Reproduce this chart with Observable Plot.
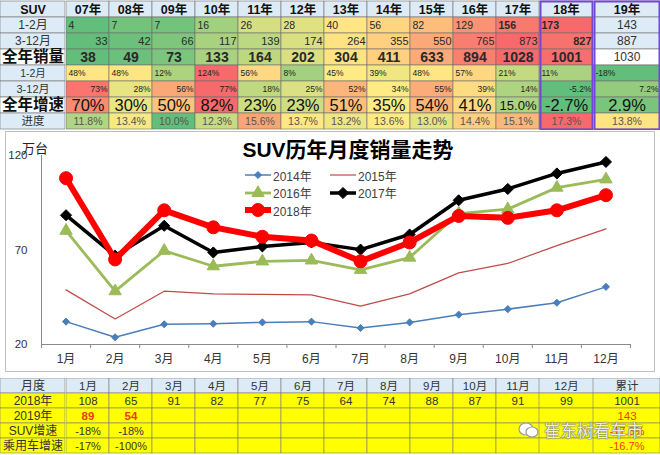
<!DOCTYPE html>
<html><head><meta charset="utf-8">
<script src="https://cdn.jsdelivr.net/npm/d3@7"></script>
<script src="https://cdn.jsdelivr.net/npm/@observablehq/plot@0.6"></script>
<style>
body{margin:0;background:#fff;font-family:"Liberation Sans","Noto Sans CJK SC",sans-serif;}
#root{position:relative;width:660px;height:455px;overflow:hidden;background:#fff;}
#root svg{display:block;}
</style></head><body><div id="root"></div>
<script>
// ---------- DATA ----------
const years = ["07年","08年","09年","10年","11年","12年","13年","14年","15年","16年","17年","18年","19年"];
const sales12 = [4,7,7,16,26,28,40,56,82,129,156,173,143];
const sales312 = [33,42,66,117,139,174,264,355,550,765,873,827,887];
const salesYear = [38,49,73,133,164,202,304,411,633,894,1028,1001,1030];
const growth12 = ["48%","48%","12%","124%","56%","8%","45%","39%","48%","57%","21%","11%","-18%"];
const growth312 = ["73%","28%","56%","77%","18%","25%","52%","34%","55%","39%","14%","-5.2%","7.2%"];
const growthYear = ["70%","30%","50%","82%","23%","23%","51%","35%","54%","41%","15.0%","-2.7%","2.9%"];
const progress = ["11.8%","13.4%","10.0%","12.3%","15.6%","13.7%","13.2%","13.6%","13.0%","14.4%","15.1%","17.3%","13.8%"];
const topRowLabels = ["SUV","1-2月","3-12月","全年销量","1-2月","3-12月","全年增速","进度"];
const boldSales12 = ["17年","18年"];
const boldSales312 = ["18年"];

const months = ["1月","2月","3月","4月","5月","6月","7月","8月","9月","10月","11月","12月"];
const s2014 = [32.1,23.8,30.7,31.0,31.7,32.1,28.7,31.7,35.8,38.7,42.1,50.5];
const s2015 = [48.9,33.5,48.2,46.8,46.5,46.3,40.3,46.8,57.9,62.9,72.3,81.2];
const s2016 = [80.2,48.2,69.6,61.4,64.0,64.5,59.5,66.0,89.3,91.6,103.0,107.4];
const s2017 = [88.4,67.0,82.8,68.7,71.9,74.0,70.2,78.2,96.3,102.3,110.5,116.6];
const s2018 = [108,65,91,82,77,75,64,74,88,87,91,99];
const yTicks = [20,70,120];

const totalLabel = "累计";
const total2018 = 1001;
const sales2019 = [89,54];
const total2019 = 143;
const suvGrowth = ["-18%","-18%"];
const suvGrowthTotal = "-17.3%";
const pvGrowth = ["-17%","-100%"];
const pvGrowthTotal = "-16.7%";
const bottomRowLabels = ["月度","2018年","2019年","SUV增速","乘用车增速"];

// ---------- HELPERS ----------
const FONT = '"Liberation Sans","Noto Sans CJK SC",sans-serif';
const COND = 0.82;
const root = document.getElementById("root");
function place(el, left, top){ el.style.position="absolute"; el.style.left=left+"px"; el.style.top=top+"px"; root.appendChild(el); return el; }
const GREEN="#63BE7B", YELLOW="#FFEB84", RED="#F8696B", LB="#DDEBF7", YEL="#FFFF00", PURPLE="#7346D8";
const measureCtx = document.createElement("canvas").getContext("2d");
function prepare(d, bw){
  // Excel-like "shrink to fit": a label that would overflow its cell gets a smaller font
  measureCtx.font = `${d.weight === "bold" ? "bold " : ""}${d.size}px ${FONT}`;
  const w = measureCtx.measureText(d.label).width;
  if (w > bw - 6) return {...d, fs: d.size * (bw - 6) / w, cond: false};
  return {...d, fs: d.size};
}
function scale3(vals){
  return d3.scaleLinear().domain([d3.min(vals), d3.median(vals), d3.max(vals)]).range([GREEN,YELLOW,RED]).interpolate(d3.interpolateRgb);
}
function textMarks(cells, bw){
  const prepared = cells.filter(d => d.label != null && d.label !== "").map(d => prepare(d, bw));
  const groups = d3.groups(prepared, d => [d.anchor, d.weight, d.color, d.cond ? 1 : 0].join("|"));
  return groups.map(([k, arr]) => {
    const a = arr[0];
    return Plot.text(arr, {x: "col", y: "row", text: "label", fontSize: d => d.fs, fontWeight: a.weight,
      textAnchor: a.anchor, fill: a.color, fontFamily: FONT,
      ariaLabel: a.cond ? "cond-text" : "cell-text",
      dx: a.anchor === "start" ? -bw/2 + 2 : a.anchor === "end" ? bw/2 - 2 : 0});
  });
}
function condense(svg, s){
  d3.select(svg).selectAll('g[aria-label="cond-text"] text').each(function(){
    let tr = this.getAttribute("transform") || "";
    const x = this.getAttribute("x"), y = this.getAttribute("y");
    if (x != null || y != null) { tr += ` translate(${x||0},${y||0})`; this.removeAttribute("x"); this.removeAttribute("y"); }
    this.setAttribute("transform", tr + ` scale(${s},1)`);
  });
}
function tablePlot(cells, cols, keys, width, height, opts = {}){
  const bw = width / cols.length;
  const cs = cells.filter(d => cols.includes(d.col));
  const svg = Plot.plot({
    width, height, marginTop:0, marginLeft:0, marginRight:0, marginBottom: opts.mb || 0,
    x:{type:"band", domain:cols, padding:0, axis:null},
    y:{type:"band", domain:keys, padding:0, axis:null},
    color:{type:"identity"},
    style:{fontFamily:FONT, background:"transparent"},
    marks:[
      Plot.cell(cs, {x:"col", y:"row", fill:"fill", stroke: opts.stroke || "#6d6d6d", strokeWidth:0.6}),
      ...textMarks(cs, bw),
      ...(opts.frame ? [Plot.frame({stroke:PURPLE, strokeWidth:2, inset:1})] : [])
    ]
  });
  condense(svg, COND);
  return svg;
}

// ---------- TOP TABLE ----------
const rowKeys = ["hdr","s12","s312","sy","g12","g312","gy","prog"];
const topCells = [];
years.forEach(y => topCells.push({row:"hdr", col:y, fill:LB, label:y, anchor:"middle", size:12.5, weight:"bold", color:"#111"}));
const salesSpec = [
  ["s12", sales12, {anchor:"start", size:10.5, weight:"normal"}, LB, boldSales12],
  ["s312", sales312, {anchor:"end", size:11, weight:"normal"}, LB, boldSales312],
  ["sy", salesYear, {anchor:"middle", size:14, weight:"bold"}, "#ffffff", []]
];
salesSpec.forEach(([row, vals, st, lastFill, bolds]) => {
  const sc = scale3(vals.slice(0, 12));
  vals.forEach((v, i) => {
    if (i === 12) topCells.push({row, col:years[i], fill:lastFill, label:String(v), anchor:"middle", size:12, weight:"normal", color:"#333"});
    else topCells.push({row, col:years[i], fill:sc(v), label:String(v), anchor:st.anchor, size:st.size,
      weight: bolds.includes(years[i]) ? "bold" : st.weight, color:"#2a2a2a"});
  });
});
const pctSpec = [
  ["g12", growth12, {anchor:"start", size:8.5, weight:"normal", color:"#222"}],
  ["g312", growth312, {anchor:"end", size:8.5, weight:"normal", color:"#222"}],
  ["gy", growthYear, {anchor:"middle", size:16.5, weight:"normal", color:"#111", cond:true}],
  ["prog", progress, {anchor:"middle", size:10.5, weight:"normal", color:"#555"}]
];
pctSpec.forEach(([row, vals, st]) => {
  const sc = scale3(vals.map(parseFloat));
  vals.forEach((v, i) => topCells.push({row, col:years[i], fill:sc(parseFloat(v)), label:v, ...st}));
});
place(tablePlot(topCells, years.slice(0, 11), rowKeys, 474, 130), 65, 0);
place(tablePlot(topCells, years.slice(11, 12), rowKeys, 54, 130, {frame:true}), 539, 0);
place(tablePlot(topCells, years.slice(12), rowKeys, 67, 130, {frame:true}), 593, 0);

const labelStyles = [
  {size:12.5, weight:"bold"},{size:12, weight:"normal"},{size:12, weight:"normal"},{size:15.5, weight:"bold"},
  {size:10.5, weight:"normal"},{size:11, weight:"normal"},{size:15.5, weight:"bold"},{size:11.5, weight:"normal"}
];
const labelFills = [LB, LB, LB, "#ffffff", LB, LB, "#ffffff", LB];
const labelCells = topRowLabels.map((t, i) => ({row:rowKeys[i], label:t, fill:labelFills[i], ...labelStyles[i]}));
const topLabels = Plot.plot({
  width:65, height:130, margin:0,
  y:{type:"band", domain:rowKeys, padding:0, axis:null},
  color:{type:"identity"},
  style:{fontFamily:FONT, background:"transparent"},
  marks:[
    Plot.cell(labelCells, {y:"row", fill:"fill", stroke:"#6d6d6d", strokeWidth:0.6}),
    Plot.text(labelCells.filter(d => d.weight === "bold"), {y:"row", text:"label", fontSize:d => d.size, fontWeight:"bold", fill:"#111", fontFamily:FONT}),
    Plot.text(labelCells.filter(d => d.weight !== "bold"), {y:"row", text:"label", fontSize:d => d.size, fill:"#333", fontFamily:FONT})
  ]
});
place(topLabels, 0, 0);

// ---------- CHART ----------
const box = document.createElement("div");
box.style.cssText = "width:650px;height:241px;border:1px solid #BFBFBF;box-sizing:border-box;";
place(box, 5, 131);

const series = [
  {name:"2014年", values:s2014, stroke:"#4A7EBB", sw:1.5, symbol:"diamond2", r:3.2},
  {name:"2015年", values:s2015, stroke:"#BE4B48", sw:1.2, symbol:null, r:0},
  {name:"2016年", values:s2016, stroke:"#9BBB59", sw:2.8, symbol:"triangle", r:4.6},
  {name:"2017年", values:s2017, stroke:"#000000", sw:3.5, symbol:"diamond2", r:5},
  {name:"2018年", values:s2018, stroke:"#FF0000", sw:6, symbol:"circle", r:6.5}
];
const seriesMarks = series.flatMap(s => {
  const pts = s.values.map((v, i) => ({m:i+1, v}));
  const ms = [Plot.line(pts, {x:"m", y:"v", stroke:s.stroke, strokeWidth:s.sw, strokeLinejoin:"round"})];
  if (s.symbol) ms.push(Plot.dot(pts, {x:"m", y:"v", symbol:s.symbol, r:s.r, fill:s.stroke, stroke:s.stroke, strokeWidth:1}));
  return ms;
});
const chart = Plot.plot({
  width:660, height:248, marginTop:25, marginBottom:34, marginLeft:41, marginRight:30,
  x:{type:"linear", domain:[0.5, 12.5]},
  y:{type:"linear", domain:[20, 120]},
  style:{fontFamily:FONT, fontSize:"12px", color:"#333", background:"transparent"},
  marks:[
    Plot.ruleX([0.5], {stroke:"#8a8a8a", strokeWidth:1}),
    Plot.ruleY([20], {stroke:"#8a8a8a", strokeWidth:1}),
    Plot.axisY({ticks:yTicks, tickSize:0, tickPadding:14, label:null, fontSize:11.5}),
    Plot.axisX({ticks:d3.range(0.5, 13, 1), tickSize:4, tickFormat:() => "", label:null, stroke:"#8a8a8a"}),
    Plot.axisX({ticks:d3.range(1, 13), tickSize:0, tickPadding:10, tickFormat:i => months[i-1], label:null, fontSize:12}),
    ...seriesMarks
  ]
});
place(chart, 0, 130);

const unit = document.createElement("div");
unit.textContent = "万台";
unit.style.cssText = "font-size:13px;line-height:13px;color:#222;";
place(unit, 22, 142);

const title = document.createElement("div");
title.textContent = "SUV历年月度销量走势";
title.style.cssText = "width:300px;text-align:center;font-size:21px;line-height:21px;font-weight:bold;color:#000;";
place(title, 198, 139);

// legend
const legendPos = [[245,175],[330,175],[245,192.5],[330,192.5],[245,210]];
const symMap = {diamond2:d3.symbolDiamond2, triangle:d3.symbolTriangle, circle:d3.symbolCircle};
series.forEach((s, i) => {
  const [lx, ly] = legendPos[i];
  const item = document.createElement("div");
  item.style.cssText = "display:flex;align-items:center;height:14px;font-size:12px;color:#404040;white-space:nowrap;";
  const svg = d3.create("svg").attr("width", 26).attr("height", 14).style("overflow","visible");
  svg.append("line").attr("x1",0).attr("x2",26).attr("y1",7).attr("y2",7).attr("stroke",s.stroke).attr("stroke-width",s.sw);
  if (s.symbol) svg.append("path").attr("transform","translate(13,7)").attr("d", d3.symbol(symMap[s.symbol], Math.PI*s.r*s.r)()).attr("fill",s.stroke).attr("stroke",s.stroke);
  item.appendChild(svg.node());
  const sp = document.createElement("span"); sp.textContent = s.name; sp.style.marginLeft = "2px";
  item.appendChild(sp);
  place(item, lx, ly - 7);
});

// ---------- BOTTOM TABLE ----------
const cols = [...months, totalLabel];
const bKeys = ["hdr","r18","r19","suv","pv"];
const bCells = [];
const RED_T = "#F03A12";
cols.forEach((c, i) => {
  bCells.push({row:"hdr", col:c, fill:LB, label:c, anchor:"middle", size:11.5, weight:"normal", color:"#333"});
  bCells.push({row:"r18", col:c, fill:YEL, label:String(i < 12 ? s2018[i] : total2018), anchor:"middle", size:11.5, weight:"normal", color:"#333"});
  const v19 = i < 12 ? sales2019[i] : total2019;
  bCells.push({row:"r19", col:c, fill:YEL, label:v19 == null ? "" : String(v19), anchor:"middle", size:11.5, weight: i < 12 ? "bold" : "normal", color:RED_T});
  const vs = i < 12 ? suvGrowth[i] : suvGrowthTotal;
  bCells.push({row:"suv", col:c, fill:YEL, label:vs == null ? "" : vs, anchor:"middle", size:11, weight:"normal", color: i < 12 ? "#333" : RED_T});
  const vp = i < 12 ? pvGrowth[i] : pvGrowthTotal;
  bCells.push({row:"pv", col:c, fill:YEL, label:vp == null ? "" : vp, anchor:"middle", size:11, weight:"normal", color: i < 12 ? "#333" : RED_T});
});
place(tablePlot(bCells, cols.slice(0, 11), bKeys, 474, 77, {mb:2, stroke:"#7a7a7a"}), 65, 378);
place(tablePlot(bCells, cols.slice(11, 12), bKeys, 54, 77, {mb:2, stroke:"#7a7a7a"}), 539, 378);
place(tablePlot(bCells, cols.slice(12), bKeys, 67, 77, {mb:2, stroke:"#7a7a7a"}), 593, 378);

const bLabelCells = bottomRowLabels.map((t, i) => ({row:bKeys[i], label:t, fill: i === 0 ? LB : YEL}));
const bottomLabels = Plot.plot({
  width:65, height:77, marginTop:0, marginLeft:0, marginRight:0, marginBottom:2,
  y:{type:"band", domain:bKeys, padding:0, axis:null},
  color:{type:"identity"},
  style:{fontFamily:FONT, background:"transparent"},
  marks:[
    Plot.cell(bLabelCells, {y:"row", fill:"fill", stroke:"#7a7a7a", strokeWidth:0.6}),
    Plot.text(bLabelCells, {y:"row", text:"label", fontSize:12, fill:"#333", fontFamily:FONT})
  ]
});
place(bottomLabels, 0, 378);

// watermark
const wm = document.createElement("div");
wm.style.cssText = "display:flex;align-items:center;pointer-events:none;";
const icon = d3.create("svg").attr("width", 22).attr("height", 18);
icon.append("ellipse").attr("cx",8).attr("cy",8).attr("rx",7).attr("ry",6).attr("fill","#fff").attr("stroke","#9a9a9a").attr("stroke-width",1.2);
icon.append("ellipse").attr("cx",14).attr("cy",11).attr("rx",6).attr("ry",5).attr("fill","#fff").attr("stroke","#9a9a9a").attr("stroke-width",1.2);
wm.appendChild(icon.node());
const wmt = document.createElement("span");
wmt.textContent = "崔东树看车市";
wmt.style.cssText = "margin-left:4px;font-size:16.5px;color:rgba(255,255,255,0.9);text-shadow:0 0 1px #666,0 0 1px #666,0 0 2px #888;";
wm.appendChild(wmt);
place(wm, 518, 418);
</script></body></html>
